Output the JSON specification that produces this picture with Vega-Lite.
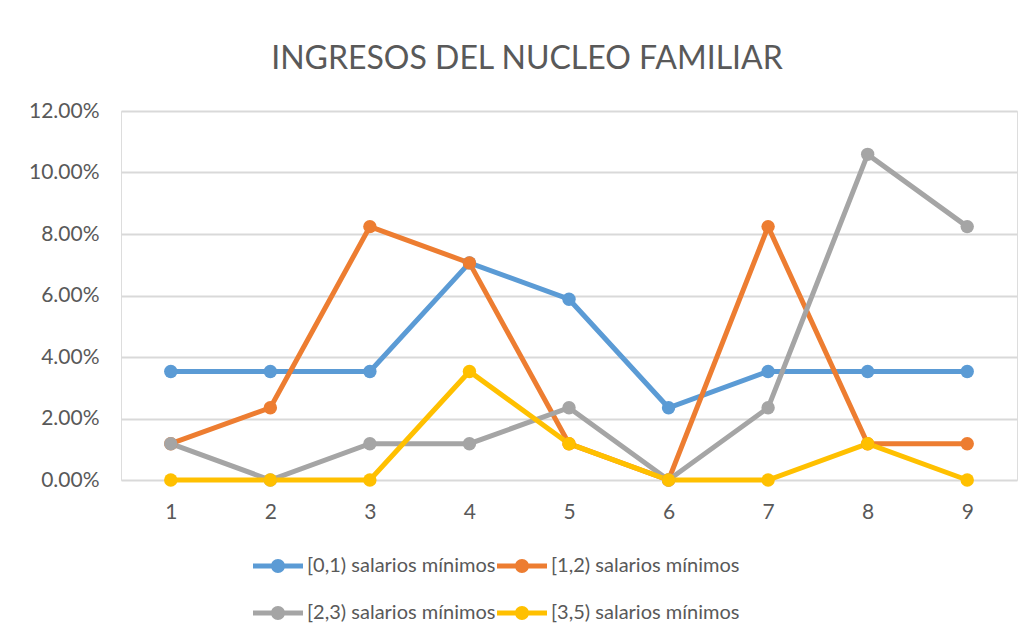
{
  "$schema": "https://vega.github.io/schema/vega-lite/v6.json",
  "autosize": "none",
  "width": 896,
  "height": 369,
  "padding": {"left": 121, "top": 111, "right": 15, "bottom": 158},
  "background": "white",
  "title": {
    "text": "INGRESOS DEL NUCLEO FAMILIAR",
    "font": "Lato",
    "fontSize": 32,
    "fontWeight": "normal",
    "color": "#595959",
    "anchor": "middle",
    "frame": "group",
    "dx": -42,
    "offset": 24
  },
  "data": {
    "values": [
      {"cat": "1", "serie": "[0,1) salarios mínimos", "v": 0.0353},
      {"cat": "2", "serie": "[0,1) salarios mínimos", "v": 0.0353},
      {"cat": "3", "serie": "[0,1) salarios mínimos", "v": 0.0353},
      {"cat": "4", "serie": "[0,1) salarios mínimos", "v": 0.0706},
      {"cat": "5", "serie": "[0,1) salarios mínimos", "v": 0.0588},
      {"cat": "6", "serie": "[0,1) salarios mínimos", "v": 0.0235},
      {"cat": "7", "serie": "[0,1) salarios mínimos", "v": 0.0353},
      {"cat": "8", "serie": "[0,1) salarios mínimos", "v": 0.0353},
      {"cat": "9", "serie": "[0,1) salarios mínimos", "v": 0.0353},
      {"cat": "1", "serie": "[1,2) salarios mínimos", "v": 0.0118},
      {"cat": "2", "serie": "[1,2) salarios mínimos", "v": 0.0235},
      {"cat": "3", "serie": "[1,2) salarios mínimos", "v": 0.0824},
      {"cat": "4", "serie": "[1,2) salarios mínimos", "v": 0.0706},
      {"cat": "5", "serie": "[1,2) salarios mínimos", "v": 0.0118},
      {"cat": "6", "serie": "[1,2) salarios mínimos", "v": 0.0},
      {"cat": "7", "serie": "[1,2) salarios mínimos", "v": 0.0824},
      {"cat": "8", "serie": "[1,2) salarios mínimos", "v": 0.0118},
      {"cat": "9", "serie": "[1,2) salarios mínimos", "v": 0.0118},
      {"cat": "1", "serie": "[2,3) salarios mínimos", "v": 0.0118},
      {"cat": "2", "serie": "[2,3) salarios mínimos", "v": 0.0},
      {"cat": "3", "serie": "[2,3) salarios mínimos", "v": 0.0118},
      {"cat": "4", "serie": "[2,3) salarios mínimos", "v": 0.0118},
      {"cat": "5", "serie": "[2,3) salarios mínimos", "v": 0.0235},
      {"cat": "6", "serie": "[2,3) salarios mínimos", "v": 0.0},
      {"cat": "7", "serie": "[2,3) salarios mínimos", "v": 0.0235},
      {"cat": "8", "serie": "[2,3) salarios mínimos", "v": 0.1059},
      {"cat": "9", "serie": "[2,3) salarios mínimos", "v": 0.0824},
      {"cat": "1", "serie": "[3,5) salarios mínimos", "v": 0.0},
      {"cat": "2", "serie": "[3,5) salarios mínimos", "v": 0.0},
      {"cat": "3", "serie": "[3,5) salarios mínimos", "v": 0.0},
      {"cat": "4", "serie": "[3,5) salarios mínimos", "v": 0.0353},
      {"cat": "5", "serie": "[3,5) salarios mínimos", "v": 0.0118},
      {"cat": "6", "serie": "[3,5) salarios mínimos", "v": 0.0},
      {"cat": "7", "serie": "[3,5) salarios mínimos", "v": 0.0},
      {"cat": "8", "serie": "[3,5) salarios mínimos", "v": 0.0118},
      {"cat": "9", "serie": "[3,5) salarios mínimos", "v": 0.0}
    ]
  },
  "encoding": {
    "x": {
      "field": "cat",
      "type": "ordinal",
      "scale": {"type": "point", "padding": 0.5},
      "axis": {
        "title": null,
        "labelAngle": 0,
        "labelFont": "Lato",
        "labelFontSize": 21,
        "labelColor": "#595959",
        "labelPadding": 21,
        "ticks": false,
        "domain": false,
        "grid": false
      }
    },
    "y": {
      "field": "v",
      "type": "quantitative",
      "scale": {"domain": [0, 0.12], "nice": false, "zero": true},
      "axis": {
        "title": null,
        "values": [0, 0.02, 0.04, 0.06, 0.08, 0.1, 0.12],
        "format": ".2%",
        "labelFont": "Lato",
        "labelFontSize": 21,
        "labelColor": "#595959",
        "labelPadding": 22,
        "ticks": false,
        "domain": false,
        "grid": true,
        "gridColor": "#d9d9d9",
        "gridWidth": 2
      }
    },
    "color": {
      "field": "serie",
      "type": "nominal",
      "scale": {
        "domain": ["[0,1) salarios mínimos", "[1,2) salarios mínimos", "[2,3) salarios mínimos", "[3,5) salarios mínimos"],
        "range": ["#5B9BD5", "#ED7D31", "#A5A5A5", "#FFC000"]
      },
      "legend": {
        "title": null,
        "orient": "none",
        "direction": "horizontal",
        "legendX": 132,
        "legendY": 430,
        "columns": 2,
        "columnPadding": 1,
        "rowPadding": 12,
        "labelFont": "Lato",
        "labelFontSize": 20,
        "labelColor": "#595959",
        "labelOffset": 4,
        "labelLimit": 400,
        "symbolType": "M-1,-0.1H1V0.1H-1Z M-0.28,0A0.28,0.28 0 1,1 0.28,0A0.28,0.28 0 1,1 -0.28,0Z",
        "symbolSize": 2500,
        "symbolStrokeWidth": 0,
        "symbolOpacity": 1
      }
    }
  },
  "layer": [
    {"mark": {"type": "line", "strokeWidth": 5}},
    {"mark": {"type": "point", "filled": true, "opacity": 1, "size": 180, "shape": "circle"}}
  ]
}
